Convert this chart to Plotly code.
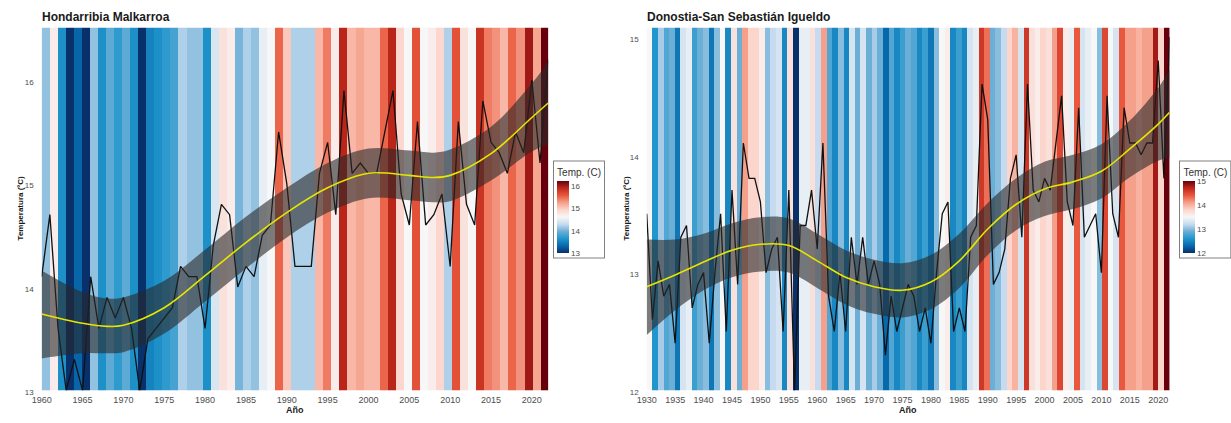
import plotly.graph_objects as go

# ---------------- data: Hondarribia Malkarroa ----------------
years_h = list(range(1960, 2023))
temp_h = [14.1, 14.7, 13.6, 13.0, 13.3, 13.0, 14.1, 13.6, 13.9, 13.7,
          13.9, 13.6, 13.0, 13.5, 13.6, 13.7, 13.8, 14.2, 14.1, 14.1,
          13.6, 14.4, 14.8, 14.7, 14.0, 14.2, 14.1, 14.5, 14.6, 15.5,
          15.0, 14.2, 14.2, 14.2, 15.1, 15.4, 14.7, 15.9, 15.1, 15.2,
          15.1, 15.1, 15.5, 15.9, 14.9, 14.6, 15.6, 14.6, 14.7, 14.9,
          14.2, 15.6, 14.8, 14.6, 15.8, 15.4, 15.3, 15.1, 15.5, 15.3,
          16.0, 15.2, 16.2]
smooth_years_h = [1960, 1965, 1968, 1970, 1975, 1980, 1985, 1990, 1995, 2000,
                  2005, 2008, 2010, 2015, 2020, 2022]
smooth_h = [13.74, 13.65, 13.62, 13.63, 13.80, 14.11, 14.43, 14.72, 14.96, 15.10,
            15.08, 15.06, 15.08, 15.29, 15.64, 15.78]
band_lo_h = [13.31, 13.36, 13.36, 13.37, 13.55, 13.86, 14.18, 14.48, 14.72, 14.86,
             14.84, 14.82, 14.83, 15.03, 15.31, 15.38]
band_hi_h = [14.16, 13.95, 13.89, 13.90, 14.06, 14.36, 14.68, 14.96, 15.20, 15.34,
             15.32, 15.30, 15.33, 15.55, 15.97, 16.18]
xticks_h = [1960, 1965, 1970, 1975, 1980, 1985, 1990, 1995, 2000, 2005, 2010, 2015, 2020]
yticks_h = [13, 14, 15, 16]

# ---------------- data: Donostia-San Sebastián Igueldo ----------------
years_d = list(range(1930, 2023))
temp_d = [13.5, 12.6, 13.1, 12.8, 12.9, 12.4, 13.3, 13.4, 12.7, 12.9,
          13.0, 12.4, 13.0, 13.5, 12.5, 13.7, 12.9, 14.1, 13.8, 13.8,
          13.6, 13.0, 13.2, 13.3, 12.5, 13.7, 12.0, 13.4, 13.4, 13.7,
          13.2, 14.1, 12.8, 12.5, 13.0, 12.5, 13.3, 12.9, 13.3, 12.9,
          13.1, 12.9, 12.3, 12.8, 12.5, 12.7, 12.9, 12.8, 12.5, 12.7,
          12.4, 13.0, 13.5, 13.6, 12.5, 12.7, 12.5, 13.3, 13.4, 14.6,
          14.3, 12.9, 13.0, 13.2, 13.8, 14.0, 13.3, 14.6, 13.7, 13.6,
          13.8, 13.7, 14.1, 14.5, 13.6, 13.4, 14.4, 13.3, 13.4, 13.5,
          13.0, 14.5, 13.5, 13.3, 14.4, 14.1, 14.1, 14.0, 14.1, 14.1,
          14.8, 13.8, 15.0]
smooth_years_d = [1930, 1935, 1940, 1945, 1950, 1955, 1960, 1965, 1970, 1975,
                  1980, 1985, 1990, 1995, 2000, 2005, 2010, 2015, 2020, 2022]
smooth_d = [12.88, 12.98, 13.09, 13.19, 13.24, 13.23, 13.10, 12.96, 12.88, 12.85,
            12.92, 13.10, 13.37, 13.58, 13.71, 13.77, 13.86, 14.05, 14.26, 14.36]
band_lo_d = [12.47, 12.68, 12.85, 12.96, 13.01, 13.00, 12.87, 12.73, 12.65, 12.62,
             12.69, 12.87, 13.15, 13.36, 13.48, 13.54, 13.63, 13.81, 13.95, 13.98]
band_hi_d = [13.28, 13.28, 13.33, 13.42, 13.47, 13.46, 13.33, 13.19, 13.11, 13.08,
             13.15, 13.33, 13.59, 13.80, 13.94, 14.00, 14.09, 14.29, 14.57, 14.72]
xticks_d = [1930, 1935, 1940, 1945, 1950, 1955, 1960, 1965, 1970, 1975, 1980,
            1985, 1990, 1995, 2000, 2005, 2010, 2015, 2020]
yticks_d = [12, 13, 14, 15]

# ---------------- style ----------------
W, H = 1231, 423
def px(x):
    return x / W
def py(y):
    return 1 - y / H

stripe_colors = ['#08306b', '#0868ac', '#2196cc', '#6baed6', '#c6dbef', '#f7f7f7',
                 '#fcd5cc', '#f5a08a', '#e9573d', '#c0281b', '#67000d']
stripe_scale = [[i / (len(stripe_colors) - 1), c] for i, c in enumerate(stripe_colors)]
FONT = 'Liberation Sans, Arial, sans-serif'
band_fill = 'rgba(40,40,40,0.6)'

fig = go.Figure()

def add_panel(years, temps, sy, sm, lo, hi, xs, ys, n):
    bx, by = ('x', 'y') if n == 1 else ('x3', 'y3')
    lx, ly = ('x2', 'y2') if n == 1 else ('x4', 'y4')
    cbx = 549 if n == 1 else 1181
    fig.add_trace(go.Heatmap(
        z=[temps], x=years, y=[0.5], xaxis=bx, yaxis=by,
        colorscale=stripe_scale, zmin=min(temps), zmax=max(temps), hoverinfo='skip',
        colorbar=dict(title=dict(text='Temp. (C)', side='top', font=dict(size=10, color='#333333', family=FONT)),
                      thickness=12, len=96, lenmode='pixels', x=px(cbx), xanchor='left',
                      y=py(213), yanchor='middle', tickvals=ys,
                      tickfont=dict(size=8, color='#4d4d4d', family=FONT),
                      outlinewidth=0, borderwidth=1, bordercolor='#808080',
                      xpad=3, ypad=4, ticks='', ticklabelposition='outside')))
    fig.add_trace(go.Scatter(x=years, y=temps, xaxis=lx, yaxis=ly, mode='lines',
                             line=dict(color='#111111', width=1.3), showlegend=False, hoverinfo='skip'))
    fig.add_trace(go.Scatter(x=sy, y=hi, xaxis=lx, yaxis=ly, mode='lines',
                             line=dict(width=0, shape='spline'), showlegend=False, hoverinfo='skip'))
    fig.add_trace(go.Scatter(x=sy, y=lo, xaxis=lx, yaxis=ly, mode='lines', fill='tonexty',
                             fillcolor=band_fill, line=dict(width=0, shape='spline'),
                             showlegend=False, hoverinfo='skip'))
    fig.add_trace(go.Scatter(x=sy, y=sm, xaxis=lx, yaxis=ly, mode='lines',
                             line=dict(color='#e5e500', width=1.6, shape='spline'),
                             showlegend=False, hoverinfo='skip'))

add_panel(years_h, temp_h, smooth_years_h, smooth_h, band_lo_h, band_hi_h, xticks_h, yticks_h, 1)
add_panel(years_d, temp_d, smooth_years_d, smooth_d, band_lo_d, band_hi_d, xticks_d, yticks_d, 2)

xtickfont = dict(size=9, color='#4d4d4d', family=FONT)
ytickfont = dict(size=8, color='#4d4d4d', family=FONT)
xcommon = dict(showgrid=False, zeroline=False, showline=False, ticks='', tickfont=xtickfont,
               ticklabelstandoff=3)
ycommon = dict(showgrid=False, zeroline=False, showline=False, ticks='', tickfont=ytickfont,
               ticklabelshift=2, ticklabelstandoff=7)

fig.update_layout(
    width=W, height=H, margin=dict(l=0, r=0, t=0, b=0),
    paper_bgcolor='white', plot_bgcolor='white', showlegend=False,
    xaxis=dict(domain=[px(32), px(543.5)], range=[years_h[0] - 0.5, years_h[-1] + 0.5],
               visible=False, anchor='y', fixedrange=True),
    yaxis=dict(domain=[py(397), py(28)], range=[0, 1], visible=False, anchor='x', fixedrange=True),
    xaxis2=dict(overlaying='x', anchor='y2', range=[years_h[0], years_h[-1]], tickvals=xticks_h, **xcommon),
    yaxis2=dict(overlaying='y', anchor='x2', range=[13, 16.51], tickvals=yticks_h, **ycommon),
    xaxis3=dict(domain=[px(643), px(1171)], range=[years_d[0] - 0.5, years_d[-1] + 0.5],
                visible=False, anchor='y3', fixedrange=True),
    yaxis3=dict(domain=[py(397), py(28)], range=[0, 1], visible=False, anchor='x3', fixedrange=True),
    xaxis4=dict(overlaying='x3', anchor='y4', range=[years_d[0], years_d[-1]], tickvals=xticks_d, **xcommon),
    yaxis4=dict(overlaying='y3', anchor='x4', range=[12, 15.08], tickvals=yticks_d, **ycommon),
)

ann = []
ann.append(dict(text='<b>Hondarribia Malkarroa</b>', x=px(30), y=py(17), xanchor='left', yanchor='middle',
                font=dict(size=12, color='#1a1a1a', family=FONT)))
ann.append(dict(text='<b>Donostia-San Sebastián Igueldo</b>', x=px(641), y=py(17), xanchor='left',
                yanchor='middle', font=dict(size=12, color='#1a1a1a', family=FONT)))
for xc in [(32 + 543.5) / 2, (643 + 1171) / 2]:
    ann.append(dict(text='<b>Año</b>', x=px(xc), y=py(417), xanchor='center', yanchor='middle',
                    font=dict(size=9, color='#1a1a1a', family=FONT)))
for xc in [11, 623]:
    ann.append(dict(text='<b>Temperatura (ºC)</b>', x=px(xc), y=py(212), xanchor='center', yanchor='middle',
                    textangle=-90, font=dict(size=8, color='#1a1a1a', family=FONT)))
for a in ann:
    a.update(xref='paper', yref='paper', showarrow=False)
fig.update_layout(annotations=ann)

fig.write_html('out.html')
